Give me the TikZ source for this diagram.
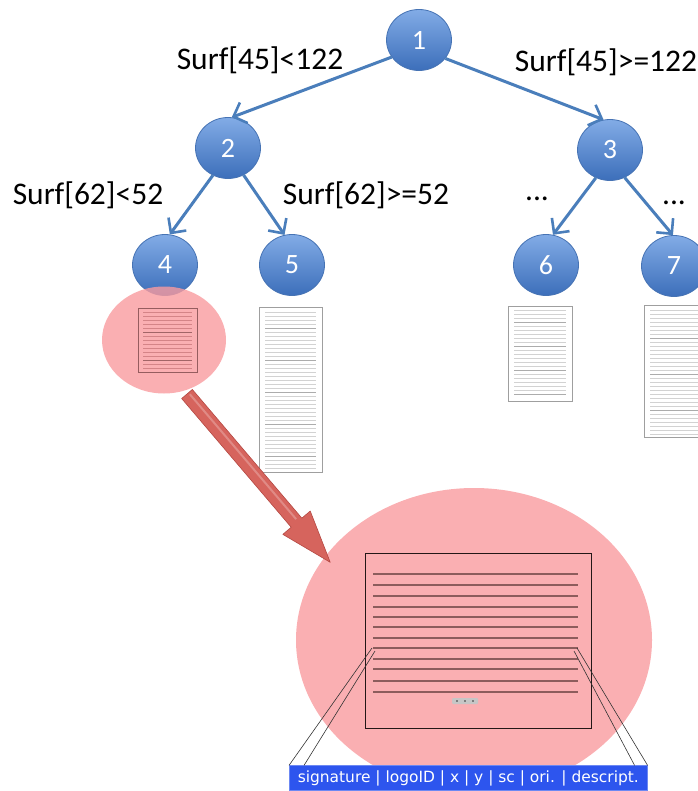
\documentclass[tikz,border=0pt]{standalone}
\usepackage{fontspec}
\setmainfont{Carlito}
\newfontfamily\barfont{DejaVu Sans}
\usetikzlibrary{shapes.geometric,arrows.meta,calc}
\definecolor{nodetop}{RGB}{130,172,230}
\definecolor{nodebot}{RGB}{60,110,186}
\definecolor{nodeedge}{RGB}{70,115,180}
\definecolor{arrowblue}{RGB}{74,126,187}
\definecolor{pinkbase}{RGB}{249,155,159}
\definecolor{pinkvis}{RGB}{250,175,178}
\definecolor{bigarrow}{RGB}{214,100,93}
\definecolor{bigarrowedge}{RGB}{180,72,66}
\definecolor{bigline}{RGB}{140,92,92}
\definecolor{barblue}{RGB}{45,85,238}
\begin{document}
\begin{tikzpicture}[x=1pt,y=1pt,
  tn/.style={ellipse, minimum width=65pt, minimum height=61pt, inner sep=0pt,
    top color=nodetop, bottom color=nodebot, draw=nodeedge, line width=0.8pt,
    text=white, font=\fontsize{28}{28}\selectfont},
  edge/.style={draw=arrowblue, line width=3pt,
    -{Straight Barb[length=11pt,width=22pt,line width=2.6pt]}},
  lbl/.style={font=\fontsize{31.5}{31.5}\selectfont, inner sep=0pt},
  docst/.style={rectangle, draw=gray!75, line width=0.8pt, fill=white, inner sep=0pt, anchor=north west},
  docline/.style={draw=gray!35, line width=1pt},
  docdark/.style={draw=gray!65, line width=1pt},
  bline/.style={draw=bigline, line width=2.2pt},
  thinlink/.style={draw=black!80, line width=0.6pt}
]
\useasboundingbox (0,0) rectangle (697,-791);

% tree nodes
\node[tn] (n1) at (419,-40) {1};
\node[tn] (n2) at (228,-148) {2};
\node[tn] (n3) at (610,-150) {3};
\node[tn] (n4) at (165,-265) {4};
\node[tn] (n5) at (292,-265) {5};
\node[tn] (n6) at (546,-265) {6};
\node[tn] (n7) at (674,-266) {7};

% edges
\draw[edge] (n1.212) -- (n2.83);
\draw[edge] (n1.325) -- (n3.102);
\draw[edge] (n2.241) -- (n4.81);
\draw[edge] (n2.300) -- (n5.104);
\draw[edge] (n3.243) -- (n6.77);
\draw[edge] (n3.298) -- (n7.92);

% labels
\node[lbl] (l1) at (260,-60) {Surf[45]<122};
\node[lbl] (l2) at (606,-62) {Surf[45]>=122};
\node[lbl] (l3) at (88,-195) {Surf[62]<52};
\node[lbl] (l4) at (366,-195) {Surf[62]>=52};
\node[lbl, anchor=base] (l5) at (537,-201) {...};
\node[lbl, anchor=base] (l6) at (674,-205) {...};

% documents under leaves
\node[docst, minimum width=63pt, minimum height=165pt] (d5) at (259,-307) {};
\foreach \i in {0,...,39} {
  \pgfmathtruncatemacro\m{mod(\i,8)}
  \ifnum\m=4 \draw[docdark] ($(d5.north west)+(6,-5-\i*4)$) -- ++(51,0);
  \else \draw[docline] ($(d5.north west)+(6,-5-\i*4)$) -- ++(51,0); \fi
}
\node[docst, minimum width=64pt, minimum height=95pt] (d6) at (508,-306) {};
\foreach \i in {0,...,21} {
  \pgfmathtruncatemacro\m{mod(\i,6)}
  \ifnum\m=3 \draw[docdark] ($(d6.north west)+(6,-4-\i*4)$) -- ++(52,0);
  \else \draw[docline] ($(d6.north west)+(6,-4-\i*4)$) -- ++(52,0); \fi
}
\node[docst, minimum width=66pt, minimum height=132pt] (d7) at (644,-305) {};
\foreach \i in {0,...,31} {
  \pgfmathtruncatemacro\m{mod(\i,9)}
  \ifnum\m=7 \draw[docdark] ($(d7.north west)+(6,-5-\i*4)$) -- ++(54,0);
  \else \draw[docline] ($(d7.north west)+(6,-5-\i*4)$) -- ++(54,0); \fi
}

% pink highlight on leaf 4
\node[ellipse, minimum width=124pt, minimum height=107pt, inner sep=0pt,
  fill=pinkbase, fill opacity=0.8] (p4) at (164,-340) {};
\node[rectangle, draw=black!40!pinkbase, line width=0.6pt, inner sep=0pt,
  minimum width=59pt, minimum height=64pt, anchor=north west] (d4) at (138,-308) {};
\foreach \i in {0,...,14} {
  \pgfmathtruncatemacro\m{mod(\i,7)}
  \ifnum\m=5 \draw[draw=black!35!pinkbase, line width=0.6pt] ($(d4.north west)+(5,-4-\i*4)$) -- ++(49,0);
  \else \draw[draw=black!15!pinkbase, line width=0.6pt] ($(d4.north west)+(5,-4-\i*4)$) -- ++(49,0); \fi
}

% big pink ellipse
\node[ellipse, minimum width=356pt, minimum height=304pt, inner sep=0pt,
  fill=pinkvis] (pbig) at (474,-640) {};

% big red arrow
\begin{scope}[shift={(187,-394)}, rotate=-49.6]
  \filldraw[fill=bigarrow, draw=bigarrowedge, line width=0.6pt, line join=round]
    (0,-7) -- (169,-7) -- (169,-18) -- (221,0) -- (169,18) -- (169,7) -- (0,7) -- cycle;
  \draw[white, opacity=0.25, line width=2pt] (2,2) -- (166,2);
\end{scope}

% big document
\node[rectangle, draw=black!75!bigline, line width=1.3pt, inner sep=0pt,
  minimum width=226pt, minimum height=175pt, anchor=north west] (bd) at (365,-553) {};
\foreach \y in {574,585,596,607,617,627,638,648,659,669,681,692} {
  \draw[bline] (373,-\y) -- (578,-\y);
}
\node[rectangle, rounded corners=1pt, fill=gray!45, minimum width=26pt,
  minimum height=6pt, inner sep=0pt] (dots) at (465,-701) {};
\foreach \dx in {-8,0,8} \fill[black!80] ($(dots.center)+(\dx,0)$) circle (0.9pt);

% record bar
\node[rectangle, fill=barblue, draw=barblue!70!white, line width=0.6pt,
  minimum width=358pt, minimum height=25pt, inner sep=0pt, anchor=south west,
  text=white] (bar) at (289,-791)
  {\resizebox{341pt}{!}{\barfont signature | logoID | x | y | sc | ori. | descript.}};

% zoom links
\coordinate (rl1) at (372,-648);
\coordinate (rl2) at (375,-651);
\coordinate (rr1) at (577,-648);
\coordinate (rr2) at (574,-651);
\draw[thinlink] (rl1) -- (bar.north west);
\draw[thinlink] (rl2) -- ($(bar.north west)+(15,0)$);
\draw[thinlink] (rr1) -- (bar.north east);
\draw[thinlink] (rr2) -- ($(bar.north east)+(-13,0)$);
\end{tikzpicture}
\end{document}
